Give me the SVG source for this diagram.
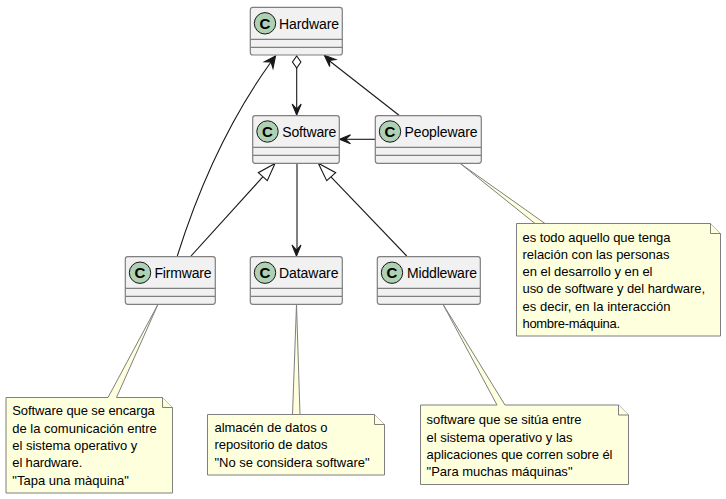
<svg xmlns="http://www.w3.org/2000/svg" width="726" height="499" viewBox="0 0 726 499">
<style>
.box{fill:#f1f1f1;stroke:#7f7f7f;stroke-width:1.2}
.div{stroke:#7f7f7f;stroke-width:1.2;fill:none}
.spot{fill:#add1b2;stroke:#181818;stroke-width:1}
.c{font:bold 15px "Liberation Sans",Arial,sans-serif;fill:#000;text-anchor:middle}
.t{font:14px "Liberation Sans",Arial,sans-serif;fill:#000}
.n{font:13px "Liberation Sans",Arial,sans-serif;fill:#000}
.note{fill:#feffdd;stroke:#7f7f7f;stroke-width:1}
.l{stroke:#181818;stroke-width:1.1;fill:none}
.h{fill:#181818;stroke:#181818;stroke-width:1.1}
.o{fill:#fff;stroke:#181818;stroke-width:1.1}
</style>
<rect width="726" height="499" fill="#fff"/>
<g id="connectors">
<path class="l" d="M296.700 68V109"/>
<path class="o" d="M296.700 56L300.900 62L296.700 68L292.500 62Z"/>
<path class="h" d="M296.700 115L292.200 104L296.700 109L301.200 104Z"/>
<path class="l" d="M177.300 256C193 206 222 130 271 62"/>
<path class="h" d="M275.500 56L264.500 61.800L271 62L273 68.300Z"/>
<path class="l" d="M399 115.300L329 60.500"/>
<path class="h" d="M324.300 55.300L329.700 66.500L329.500 60.500L335.700 59.500Z"/>
<path class="l" d="M375 139.300H345"/>
<path class="h" d="M339.500 139.300L350.500 134.800L345.500 139.300L350.500 143.800Z"/>
<path class="l" d="M191 256L263 176.700"/>
<path class="o" d="M275 163.500L258.300 172.700L267.300 180.700Z"/>
<path class="l" d="M297 163.300V250"/>
<path class="l" d="M406.700 256L330.700 176.700"/>
<path class="o" d="M318.300 163.300L335.700 172.700L326.700 180.700Z"/>
<path class="h" d="M296.500 256L292 245L296.500 250L301 245Z"/>
</g>
<g id="Hardware">
<rect class="box" x="250.300" y="7.300" width="92" height="47.700" rx="2.500"/>
<path class="div" d="M250.300 39.300H342.300M250.300 47.300H342.300"/>
<circle class="spot" cx="265" cy="23.300" r="10.700"/>
<text class="c" x="265" y="28.700">C</text>
<text class="t" x="279" y="29.300" textLength="60">Hardware</text>
</g>
<g id="Software">
<rect class="box" x="252.700" y="115.700" width="86.600" height="47.600" rx="2.500"/>
<path class="div" d="M252.700 147.300H339.300M252.700 155.300H339.300"/>
<circle class="spot" cx="267.500" cy="131.500" r="10.700"/>
<text class="c" x="267.500" y="136.900">C</text>
<text class="t" x="282.300" y="137.300" textLength="54">Software</text>
</g>
<g id="Peopleware">
<rect class="box" x="375.300" y="115.700" width="106" height="47.600" rx="2.500"/>
<path class="div" d="M375.300 147.300H481.300M375.300 155.300H481.300"/>
<circle class="spot" cx="390" cy="131.500" r="10.700"/>
<text class="c" x="390" y="136.900">C</text>
<text class="t" x="404.500" y="137.300" textLength="73">Peopleware</text>
</g>
<g id="Firmware">
<rect class="box" x="125.300" y="256.700" width="90" height="47.600" rx="2.500"/>
<path class="div" d="M125.300 288.300H215.300M125.300 296.300H215.300"/>
<circle class="spot" cx="140" cy="272.700" r="10.700"/>
<text class="c" x="140" y="278">C</text>
<text class="t" x="154.500" y="278.300" textLength="57">Firmware</text>
</g>
<g id="Dataware">
<rect class="box" x="250.300" y="256.700" width="92" height="47.600" rx="2.500"/>
<path class="div" d="M250.300 288.300H342.300M250.300 296.300H342.300"/>
<circle class="spot" cx="265" cy="272.700" r="10.700"/>
<text class="c" x="265" y="278">C</text>
<text class="t" x="279" y="278.300" textLength="59.500">Dataware</text>
</g>
<g id="Middleware">
<rect class="box" x="377.300" y="256.700" width="103" height="47.600" rx="2.500"/>
<path class="div" d="M377.300 288.300H480.300M377.300 296.300H480.300"/>
<circle class="spot" cx="392" cy="272.700" r="10.700"/>
<text class="c" x="392" y="278">C</text>
<text class="t" x="407" y="278.300" textLength="70">Middleware</text>
</g>
<g id="NoteFirmware">
<path class="note" d="M158 304.300L116.500 397.500H162.500L172.500 407.500V493H6V397.500H108Z"/>
<path class="note" d="M162.500 397.500V407.500H172.500"/>
<text class="n" x="12.300" y="415.300" textLength="142.500">Software que se encarga</text>
<text class="n" x="12.300" y="432.600" textLength="144.500">de la comunicación entre</text>
<text class="n" x="12.300" y="450" textLength="125">el sistema operativo y</text>
<text class="n" x="12.300" y="467.300" textLength="70">el hardware.</text>
<text class="n" x="12.300" y="484.800" textLength="116.500">"Tapa una màquina"</text>
</g>
<g id="NoteDataware">
<path class="note" d="M296.500 304.300L292.500 414.500H374.500L384.500 424.500V475H207.500V414.500H300Z"/>
<path class="note" d="M374.500 414.500V424.500H384.500"/>
<text class="n" x="214.500" y="432.300" textLength="113">almacén de datos o</text>
<text class="n" x="214.500" y="449.300" textLength="113">repositorio de datos</text>
<text class="n" x="214.500" y="466.800" textLength="155">"No se considera software"</text>
</g>
<g id="NoteMiddleware">
<path class="note" d="M443 304.300L505 405H618.500L628.500 415V484.500H420.500V405H497Z"/>
<path class="note" d="M618.500 405V415H628.500"/>
<text class="n" x="426.500" y="424.300" textLength="155">software que se sitúa entre</text>
<text class="n" x="426.500" y="441.600" textLength="146">el sistema operativo y las</text>
<text class="n" x="426.500" y="458.800" textLength="186">aplicaciones que corren sobre él</text>
<text class="n" x="426.500" y="476" textLength="146">"Para muchas máquinas"</text>
</g>
<g id="NotePeopleware">
<path class="note" d="M460 163.300L535 223.500H710.500L720.500 233.500V336H516.500V223.500H545Z"/>
<path class="note" d="M710.500 223.500V233.500H720.500"/>
<text class="n" x="522.500" y="241.600" textLength="148">es todo aquello que tenga</text>
<text class="n" x="522.500" y="258.800" textLength="147">relación con las personas</text>
<text class="n" x="522.500" y="276" textLength="130">en el desarrollo y en el</text>
<text class="n" x="522.500" y="293.300" textLength="182.500">uso de software y del hardware,</text>
<text class="n" x="522.500" y="310.800" textLength="148">es decir, en la interacción</text>
<text class="n" x="522.500" y="328.300" textLength="97.500">hombre-máquina.</text>
</g>
</svg>
